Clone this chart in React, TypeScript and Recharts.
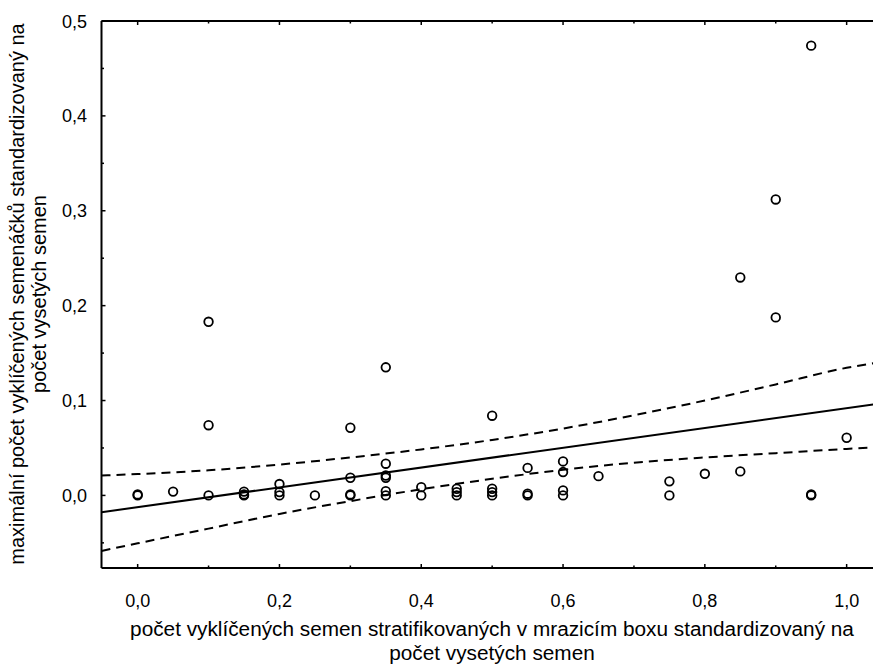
import React from 'react';
import { ScatterChart, Scatter, XAxis, YAxis } from 'recharts';

// seeds germinated in the freezer box (x) vs. max seedlings (y), both standardized
const seedX = [
    0.0, 0.0, 0.05, 0.1, 0.1, 0.1,
    0.15, 0.15, 0.15, 0.2, 0.2, 0.2, 0.25,
    0.3, 0.3, 0.3, 0.3, 0.35, 0.35, 0.35, 0.35, 0.35, 0.35,
    0.4, 0.4, 0.45, 0.45, 0.45, 0.5, 0.5, 0.5, 0.5,
    0.55, 0.55, 0.55, 0.6, 0.6, 0.6, 0.6, 0.65,
    0.75, 0.75, 0.8, 0.85, 0.85, 0.9, 0.9, 0.95, 0.95, 0.95, 1.0,
];
const seedlingY = [
    0.0, 0.001, 0.004, 0.183, 0.074, 0.0,
    0.004, 0.001, 0.0, 0.012, 0.0035, 0.0, 0.0,
    0.0713, 0.0186, 0.001, 0.0, 0.135, 0.0334, 0.021, 0.0186, 0.0045, 0.0,
    0.0087, 0.0, 0.007, 0.0035, 0.0, 0.084, 0.007, 0.0035, 0.0,
    0.029, 0.0018, 0.0, 0.0358, 0.0246, 0.0053, 0.0, 0.0203,
    0.0148, 0.0, 0.0228, 0.2297, 0.0253, 0.3119, 0.1876, 0.474, 0.001, 0.0, 0.0608,
];

// fitted line and 95% confidence band
const fitX = [-0.051, 1.04];
const fitY = [-0.0177, 0.0962];
const bandX = [-0.051, 0.0, 0.1, 0.2, 0.3, 0.4, 0.5, 0.6, 0.7, 0.8, 0.9, 1.0, 1.04];
const bandUpper = [0.021, 0.0225, 0.0265, 0.0325, 0.040, 0.0485, 0.0585, 0.0705, 0.0845, 0.100, 0.117, 0.1345, 0.1395];
const bandLower = [-0.0585, -0.0505, -0.035, -0.0195, -0.006, 0.0065, 0.0175, 0.027, 0.0345, 0.040, 0.0445, 0.049, 0.0505];

const majorX = [0, 0.2, 0.4, 0.6, 0.8, 1.0];
const minorX = [0.1, 0.3, 0.5, 0.7, 0.9];
const majorY = [0, 0.1, 0.2, 0.3, 0.4, 0.5];
const minorY = [-0.05, 0.05, 0.15, 0.25, 0.35, 0.45];

const X_DOMAIN: [number, number] = [-0.051, 1.04];
const Y_DOMAIN: [number, number] = [-0.0765, 0.5];

const points = seedX.map((x, i) => ({ x, y: seedlingY[i] }));
const fitData = fitX.map((x, i) => ({ x, y: fitY[i] }));
const upperData = bandX.map((x, i) => ({ x, y: bandUpper[i] }));
const lowerData = bandX.map((x, i) => ({ x, y: bandLower[i] }));

const FONT = '"Liberation Sans", Arial, sans-serif';

const comma = (v: number) => v.toFixed(1).replace('.', ',');

// ticks point inward; tickSize/tickMargin are 0 so x,y sit on the axis line
const BottomTick = (props: any) => {
    const { x, y, payload } = props;
    const major = majorX.includes(payload.value);
    return (
        <g>
            <line x1={x} y1={y} x2={x} y2={y - (major ? 4 : 2.5)} stroke="#000" strokeWidth={1.5} />
            {major && (
                <text x={x} y={y + 39} textAnchor="middle" fontFamily={FONT} fontSize={18} fill="#000">
                    {comma(payload.value)}
                </text>
            )}
        </g>
    );
};

const TopTick = (props: any) => {
    const { x, y, payload } = props;
    const major = majorX.includes(payload.value);
    return <line x1={x} y1={y} x2={x} y2={y + (major ? 4 : 2.5)} stroke="#000" strokeWidth={1.5} />;
};

const LeftTick = (props: any) => {
    const { x, y, payload } = props;
    const major = majorY.includes(payload.value);
    return (
        <g>
            <line x1={x} y1={y} x2={x + (major ? 4 : 2.5)} y2={y} stroke="#000" strokeWidth={1.5} />
            {major && (
                <text x={x - 14.5} y={y + 6.5} textAnchor="end" fontFamily={FONT} fontSize={18} fill="#000">
                    {comma(payload.value)}
                </text>
            )}
        </g>
    );
};

const Ring = (props: any) => (
    <circle cx={props.cx} cy={props.cy} r={4.3} fill="none" stroke="#000" strokeWidth={1.8} />
);
const NoDot = () => <g />;

const axisStroke = { stroke: '#000', strokeWidth: 2 };

export default function App() {
    return (
        <div style={{ position: 'absolute', left: 0, top: 0, width: 873, height: 666, overflow: 'hidden', background: '#fff' }}>
            <ScatterChart width={880} height={666} margin={{ top: 11, right: 5, bottom: 68, left: 61.5 }}>
                <XAxis xAxisId="b" type="number" dataKey="x" domain={X_DOMAIN} ticks={[...majorX, ...minorX]} height={30}
                    interval={0} axisLine={axisStroke} tickLine={false} tickSize={0} tickMargin={0}
                    tick={<BottomTick />} allowDataOverflow />
                <XAxis xAxisId="t" orientation="top" type="number" dataKey="x" domain={X_DOMAIN} ticks={[...majorX, ...minorX]} height={10}
                    interval={0} axisLine={axisStroke} tickLine={false} tickSize={0} tickMargin={0}
                    tick={<TopTick />} allowDataOverflow />
                <YAxis yAxisId="l" type="number" dataKey="y" domain={Y_DOMAIN} ticks={[...majorY, ...minorY]} width={40}
                    interval={0} axisLine={axisStroke} tickLine={false} tickSize={0} tickMargin={0}
                    tick={<LeftTick />} allowDataOverflow />

                <Scatter xAxisId="t" yAxisId="l" data={upperData} fill="#000" shape={NoDot} lineJointType="monotoneX"
                    line={{ stroke: '#000', strokeWidth: 2, strokeDasharray: '9 6' }} isAnimationActive={false} />
                <Scatter xAxisId="t" yAxisId="l" data={lowerData} fill="#000" shape={NoDot} lineJointType="monotoneX"
                    line={{ stroke: '#000', strokeWidth: 2, strokeDasharray: '9 6' }} isAnimationActive={false} />
                <Scatter xAxisId="b" yAxisId="l" data={fitData} fill="#000" shape={NoDot}
                    line={{ stroke: '#000', strokeWidth: 2 }} isAnimationActive={false} />
                <Scatter xAxisId="b" yAxisId="l" data={points} fill="none" shape={Ring} isAnimationActive={false} />
            </ScatterChart>
            <svg width={873} height={666} style={{ position: 'absolute', left: 0, top: 0, pointerEvents: 'none' }}>
                <text transform="rotate(-90)" textAnchor="middle" fontFamily={FONT} fontSize={20} fill="#000">
                    <tspan x={-294} y={24}>maximální počet vyklíčených semenáčků standardizovaný na</tspan>
                    <tspan x={-294} y={46}>počet vysetých semen</tspan>
                </text>
                <g transform="translate(492 0) scale(0.99 1)">
                    <text textAnchor="middle" fontFamily={FONT} fontSize={21} fill="#000">
                        <tspan x={0} y={636}>počet vyklíčených semen stratifikovaných v mrazicím boxu standardizovaný na</tspan>
                        <tspan x={0} y={660}>počet vysetých semen</tspan>
                    </text>
                </g>
            </svg>
        </div>
    );
}
